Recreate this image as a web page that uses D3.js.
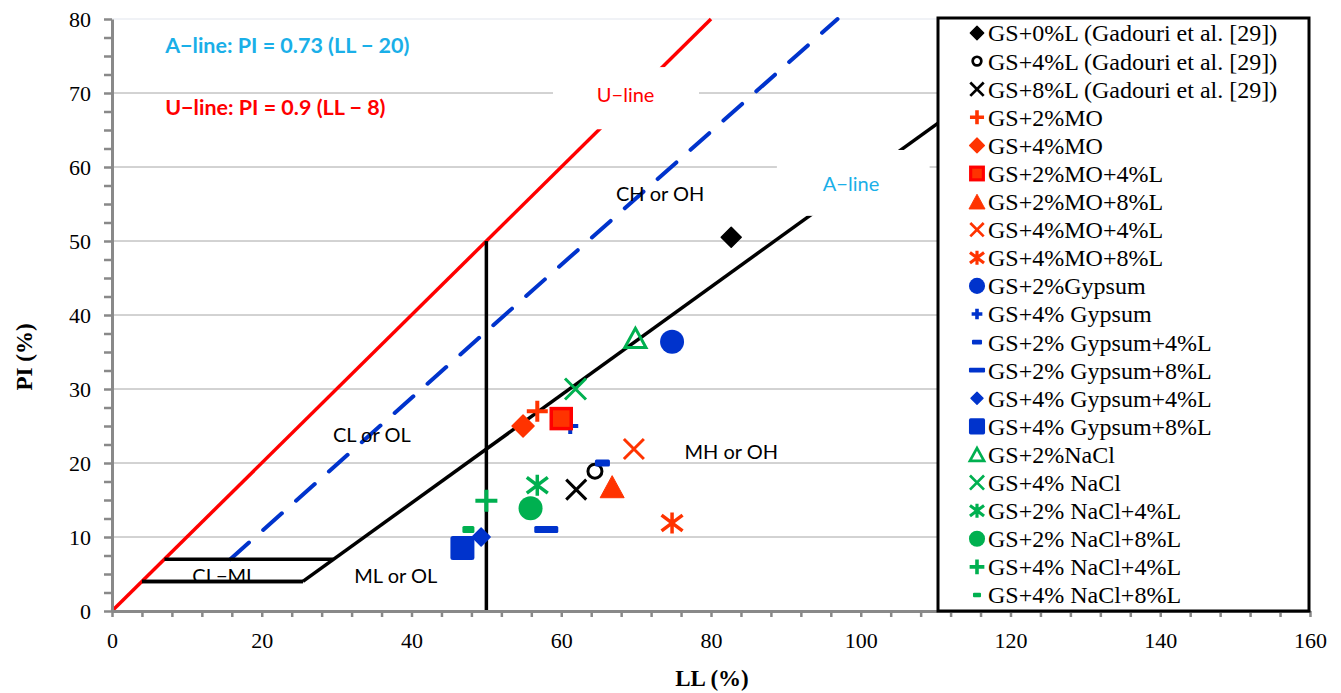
<!DOCTYPE html>
<html>
<head>
<meta charset="utf-8">
<script src="https://cdn.jsdelivr.net/npm/d3@7"></script>
<style>
  body { margin: 0; background: #fff; }
  svg { display: block; }
</style>
</head>
<body>
<svg id="chart" width="1341" height="693"></svg>
<script>
// series, in legend order
const seriesNames = [
  "GS+0%L (Gadouri et al. [29])",
  "GS+4%L (Gadouri et al. [29])",
  "GS+8%L (Gadouri et al. [29])",
  "GS+2%MO",
  "GS+4%MO",
  "GS+2%MO+4%L",
  "GS+2%MO+8%L",
  "GS+4%MO+4%L",
  "GS+4%MO+8%L",
  "GS+2%Gypsum",
  "GS+4% Gypsum",
  "GS+2% Gypsum+4%L",
  "GS+2% Gypsum+8%L",
  "GS+4% Gypsum+4%L",
  "GS+4% Gypsum+8%L",
  "GS+2%NaCl",
  "GS+4% NaCl",
  "GS+2% NaCl+4%L",
  "GS+2% NaCl+8%L",
  "GS+4% NaCl+4%L",
  "GS+4% NaCl+8%L"
];
const llValues = [82.7, 64.5, 62, 56.8, 54.9, 60, 66.8, 69.7, 74.8, 74.8, 61.2,
                  65.5, 58, 49.3, 46.8, 69.9, 61.9, 56.8, 55.9, 50, 47.6];
const piValues = [50.5, 18.9, 16.4, 27, 25, 26, 16.8, 21.9, 11.9, 36.4, 25,
                  20, 11, 10, 8.5, 36.9, 30, 17, 13.9, 14.9, 11];

// chart lines (LL, PI)
const uLine = [[0, 0], [80, 80]];
const aLineDashed = [[15.8, 7], [96.9, 80]];
const aLine = [[25.5, 4], [120, 73]];
const clmlTop = [[7, 7], [29.6, 7]];
const clmlBottom = [[4, 4], [25.5, 4]];
const llFifty = [[50, 0], [50, 50]];

const xTicks = d3.range(0, 161, 4);
const yTicks = d3.range(0, 80.1, 2.5);
const gridValues = [10, 20, 30, 40, 50, 60, 70];

const red = "#FF3300", blue = "#0033CC", green = "#00B050";
const markerStyles = [
  {shape: "diamond", color: "#000", size: 20},
  {shape: "circleOpen", color: "#000", size: 17},
  {shape: "x", color: "#000", size: 20},
  {shape: "plus", color: red, size: 21},
  {shape: "diamond", color: red, size: 22},
  {shape: "squareRim", color: red, rim: "#FF0000", size: 23},
  {shape: "triangle", color: red, size: 24},
  {shape: "x", color: red, size: 20},
  {shape: "asterisk", color: red, size: 21},
  {shape: "circle", color: blue, size: 24},
  {shape: "plus", color: blue, size: 16},
  {shape: "dash", color: blue, size: 15},
  {shape: "dash", color: blue, size: 24},
  {shape: "diamond", color: blue, size: 18},
  {shape: "square", color: blue, size: 24},
  {shape: "triangleOpen", color: green, size: 24},
  {shape: "x", color: green, size: 21},
  {shape: "asterisk", color: green, size: 21},
  {shape: "circle", color: green, size: 24},
  {shape: "plus", color: green, size: 22},
  {shape: "dash", color: green, size: 12}
];

const svg = d3.select("#chart");
const x = d3.scaleLinear([0, 160], [112, 1310]);
const y = d3.scaleLinear([0, 80], [611, 19]);
const line = d3.line().x(d => x(d[0])).y(d => y(d[1]));

// gridlines
svg.append("line")
  .attr("x1", x(0)).attr("x2", x(160)).attr("y1", y(80)).attr("y2", y(80))
  .attr("stroke", "#f0f2f6").attr("stroke-width", 2);
svg.selectAll(".grid").data(gridValues).enter().append("line")
  .attr("class", "grid")
  .attr("x1", x(0)).attr("x2", x(160))
  .attr("y1", d => y(d)).attr("y2", d => y(d))
  .attr("stroke", "#a6a6a6").attr("stroke-width", 1);

// classification lines
svg.append("path").attr("d", line(uLine))
  .attr("stroke", "#FF0000").attr("stroke-width", 3.5).attr("fill", "none");
svg.append("path").attr("d", line(aLineDashed))
  .attr("stroke", blue).attr("stroke-width", 4).attr("fill", "none")
  .attr("stroke-dasharray", "25,19").attr("stroke-linecap", "round");
[aLine, clmlTop, clmlBottom, llFifty].forEach(l => {
  svg.append("path").attr("d", line(l))
    .attr("stroke", "#000").attr("stroke-width", 3.5).attr("fill", "none")
    .attr("stroke-linejoin", "round");
});

// white boxes behind line labels
[[58.9, 78.4, 65.1, 73.5], [88.8, 109.2, 53.4, 62.3]].forEach(b => {
  svg.append("rect")
    .attr("x", x(b[0])).attr("width", x(b[1]) - x(b[0]))
    .attr("y", y(b[3])).attr("height", y(b[2]) - y(b[3]))
    .attr("fill", "#fff");
});

const zoneLabels = [
  {text: "U\u2212line", ll: 68.6, pi: 69.9, color: "#FF0000"},
  {text: "A\u2212line", ll: 98.7, pi: 57.8, color: "#1AAFE8"},
  {text: "CH or OH", ll: 73.2, pi: 56.5, color: "#000"},
  {text: "CL or OL", ll: 34.7, pi: 23.9, color: "#000"},
  {text: "MH or OH", ll: 82.7, pi: 21.6, color: "#000"},
  {text: "ML or OL", ll: 37.9, pi: 4.9, color: "#000"},
  {text: "CL\u2212ML", ll: 15, pi: 4.9, color: "#000"}
];
svg.selectAll(".zone").data(zoneLabels).enter().append("text")
  .attr("class", "zone")
  .attr("x", d => x(d.ll)).attr("y", d => y(d.pi))
  .attr("text-anchor", "middle").attr("dominant-baseline", "central")
  .attr("font-family", "Lato, 'Open Sans', sans-serif").attr("font-size", 20)
  .attr("fill", d => d.color)
  .text(d => d.text);

// the CL-ML box bottom edge runs over its label
svg.append("path").attr("d", line(clmlBottom))
  .attr("stroke", "#000").attr("stroke-width", 3.5).attr("fill", "none");

const formulas = [
  {text: "A\u2212line: PI = 0.73 (LL \u2212 20)", pi: 76.5, color: "#1AAFE8"},
  {text: "U\u2212line: PI = 0.9 (LL \u2212 8)", pi: 68.1, color: "#FF0000"}
];
svg.selectAll(".formula").data(formulas).enter().append("text")
  .attr("class", "formula")
  .attr("x", x(7.1)).attr("y", d => y(d.pi))
  .attr("dominant-baseline", "central")
  .attr("font-family", "Lato, 'Open Sans', sans-serif").attr("font-size", 21.5)
  .attr("font-weight", "bold")
  .attr("fill", d => d.color)
  .text(d => d.text);

// axes
const xAxis = d3.axisBottom(x).tickValues(xTicks)
  .tickFormat(d => d % 20 === 0 ? d : "").tickSize(6).tickSizeOuter(0).tickPadding(15);
const yAxis = d3.axisLeft(y).tickValues(yTicks)
  .tickFormat(d => d % 10 === 0 ? d : "").tickSize(8).tickSizeOuter(0).tickPadding(13);

function styleAxis(g) {
  g.select(".domain").attr("stroke", "#898989").attr("stroke-width", 3);
  g.selectAll(".tick line").attr("stroke", "#898989").attr("stroke-width", 2.5);
  g.selectAll(".tick text")
    .attr("font-family", "'Liberation Serif', 'Times New Roman', serif")
    .attr("font-size", 22).attr("fill", "#000");
}
svg.append("g").attr("transform", `translate(0,${y(0)})`).call(xAxis).call(styleAxis);
svg.append("g").attr("transform", `translate(${x(0)},0)`).call(yAxis).call(styleAxis);

svg.append("text")
  .attr("x", 712).attr("y", 686)
  .attr("text-anchor", "middle")
  .attr("font-family", "'Liberation Serif', 'Times New Roman', serif")
  .attr("font-size", 23).attr("font-weight", "bold")
  .text("LL (%)");
svg.append("text")
  .attr("transform", "translate(32,357) rotate(-90)")
  .attr("text-anchor", "middle")
  .attr("font-family", "'Liberation Serif', 'Times New Roman', serif")
  .attr("font-size", 23).attr("font-weight", "bold")
  .text("PI (%)");

// marker drawing; k scales size, w scales stroke weight
function marker(g, st, k, w) {
  const s = st.size * k, h = s / 2, c = st.color;
  switch (st.shape) {
    case "diamond":
      g.append("path").attr("d", `M0,${-h}L${h},0L0,${h}L${-h},0Z`)
        .attr("fill", c).attr("stroke", c).attr("stroke-width", 1.5 * w)
        .attr("stroke-linejoin", "round");
      break;
    case "circle":
      g.append("circle").attr("r", h).attr("fill", c);
      break;
    case "circleOpen":
      g.append("circle").attr("r", h - 1.5 * w).attr("fill", "none")
        .attr("stroke", c).attr("stroke-width", 3 * w);
      break;
    case "x":
      g.append("path").attr("d", `M${-h},${-h}L${h},${h}M${h},${-h}L${-h},${h}`)
        .attr("stroke", c).attr("stroke-width", 3 * w).attr("fill", "none");
      break;
    case "plus":
      g.append("path").attr("d", `M${-h},0H${h}M0,${-h}V${h}`)
        .attr("stroke", c).attr("stroke-width", 4 * w).attr("fill", "none");
      break;
    case "asterisk":
      g.append("path")
        .attr("d", `M${-h},${-h * 0.75}L${h},${h * 0.75}M${h},${-h * 0.75}L${-h},${h * 0.75}M0,${-h}V${h}`)
        .attr("stroke", c).attr("stroke-width", 3.5 * w).attr("fill", "none");
      break;
    case "square":
      g.append("rect").attr("x", -h).attr("y", -h).attr("width", s).attr("height", s)
        .attr("rx", 2.5 * k).attr("fill", c);
      break;
    case "squareRim":
      g.append("rect").attr("x", -h + 1.5 * w).attr("y", -h + 1.5 * w)
        .attr("width", s - 3 * w).attr("height", s - 3 * w)
        .attr("fill", c).attr("stroke", st.rim).attr("stroke-width", 3.5 * w);
      break;
    case "triangle":
      g.append("path").attr("d", `M0,${-h * 0.92}L${h},${h * 0.92}L${-h},${h * 0.92}Z`)
        .attr("fill", c).attr("stroke", c).attr("stroke-width", 1 * w)
        .attr("stroke-linejoin", "round");
      break;
    case "triangleOpen":
      g.append("path").attr("d", `M0,${-h * 0.8}L${h * 0.88},${h * 0.8}L${-h * 0.88},${h * 0.8}Z`)
        .attr("fill", "none").attr("stroke", c).attr("stroke-width", 3 * w);
      break;
    case "dash":
      g.append("rect").attr("x", -h).attr("y", -3.5 * k).attr("width", s).attr("height", 7 * k)
        .attr("rx", 1.5 * k).attr("fill", c);
      break;
  }
}

// points
const pointsLayer = svg.append("g");
seriesNames.forEach((name, i) => {
  const g = pointsLayer.append("g")
    .attr("transform", `translate(${x(llValues[i])},${y(piValues[i])})`);
  marker(g, markerStyles[i], 1, 1);
  if (name === "GS+4% Gypsum") g.lower();
});

// legend
const legend = svg.append("g");
legend.append("rect")
  .attr("x", 938).attr("y", 18).attr("width", 371).attr("height", 593)
  .attr("fill", "#fff").attr("stroke", "#000").attr("stroke-width", 3);
seriesNames.forEach((name, i) => {
  const yy = 33 + i * 28.1;
  const g = legend.append("g").attr("transform", `translate(977,${yy})`);
  marker(g, markerStyles[i], 0.67, 0.9);
  legend.append("text")
    .attr("x", 988).attr("y", yy).attr("dy", "0.35em")
    .attr("font-family", "'Liberation Serif', 'Times New Roman', serif")
    .attr("font-size", 24)
    .text(name);
});
</script>
</body>
</html>
